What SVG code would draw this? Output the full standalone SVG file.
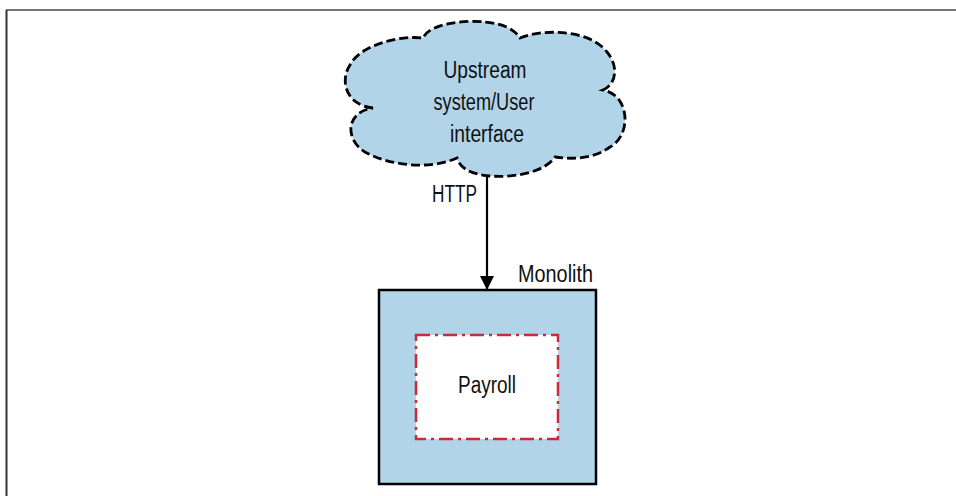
<svg xmlns="http://www.w3.org/2000/svg" width="956" height="496" viewBox="0 0 956 496">
<style>
  .t { font-family: "Liberation Sans", Arial, sans-serif; font-size: 23px; fill: #111; }
  .blue { fill: #b2d4e9; }
</style>
<defs>
  <marker id="arr" markerWidth="16" markerHeight="14" refX="14" refY="7" orient="auto" markerUnits="userSpaceOnUse">
    <path d="M0,0 L14,7 L0,14 Z" fill="#000"/>
  </marker>
</defs>
<rect width="956" height="496" fill="#fff"/>
<g id="frame">
  <line x1="6" y1="10" x2="956" y2="10" stroke="#777" stroke-width="2"/>
  <line x1="6.5" y1="10" x2="6.5" y2="496" stroke="#333" stroke-width="2"/>
</g>
<g id="cloud">
  <path class="blue" d="M373,108 C345,105 340,80 350,65 C360,45 400,35 423,38 C430,22 470,20 485,22 C505,24 515,30 520,38 C545,28 590,30 607,52 C620,68 615,85 603,90 C630,95 632,135 610,147 C595,158 575,160 555,157 C545,172 515,178 490,176 C470,174 460,168 457,158 C430,170 390,166 365,152 C345,140 345,112 373,108 Z" stroke="#000" stroke-width="2.8" stroke-dasharray="9,4"/>
  <text class="t" x="485" y="78" text-anchor="middle" textLength="83" lengthAdjust="spacingAndGlyphs">Upstream</text>
  <text class="t" x="484" y="110" text-anchor="middle" textLength="101" lengthAdjust="spacingAndGlyphs">system/User</text>
  <text class="t" x="487" y="142" text-anchor="middle" textLength="74" lengthAdjust="spacingAndGlyphs">interface</text>
</g>
<g id="monolith">
  <rect class="blue" x="379" y="290" width="217" height="194" stroke="#000" stroke-width="2.5"/>
  <text class="t" x="518" y="282" textLength="75" lengthAdjust="spacingAndGlyphs">Monolith</text>
</g>
<g id="payroll">
  <rect x="416" y="335" width="142" height="104" fill="#fff" stroke="#cc2a36" stroke-width="2.5" stroke-dasharray="14,5,3,5"/>
  <text class="t" x="487" y="393" text-anchor="middle" textLength="58" lengthAdjust="spacingAndGlyphs">Payroll</text>
</g>
<g id="connectors">
  <line x1="487" y1="176" x2="487" y2="290" stroke="#000" stroke-width="2.2" marker-end="url(#arr)"/>
  <text class="t" x="477" y="202" text-anchor="end" textLength="45" lengthAdjust="spacingAndGlyphs">HTTP</text>
</g>
</svg>
